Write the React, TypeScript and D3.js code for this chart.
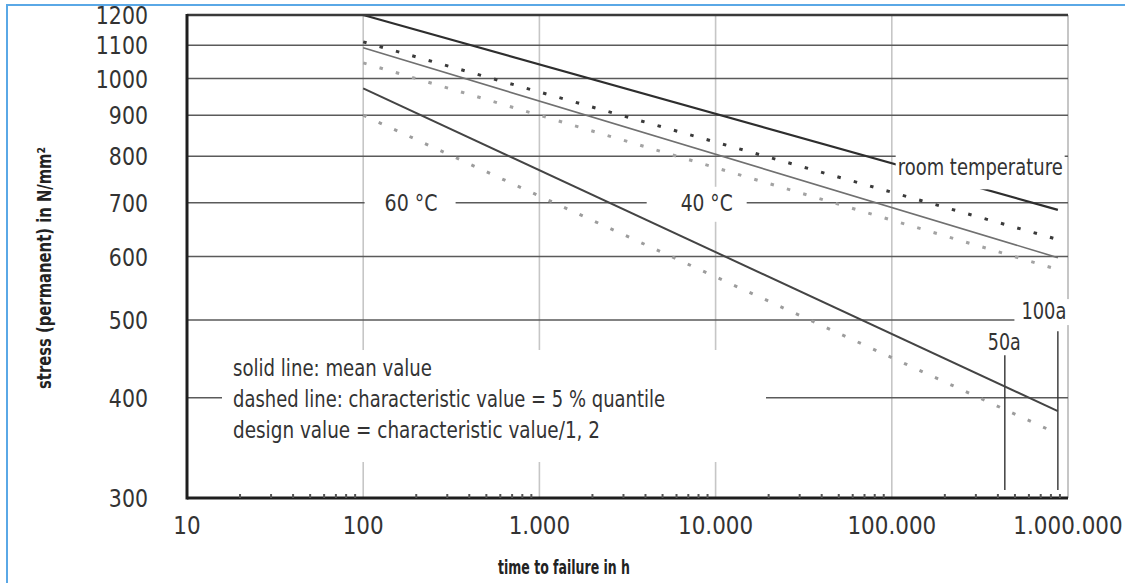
import React, { useRef, useEffect } from 'react';
import * as d3 from 'd3';

// stress vs. time to failure
const hoursStart = 100;
const hoursEnd = 876000;
const roomMean = [1200, 686];
const roomChar = [1111, 630];
const mean40 = [1092, 598];
const char40 = [1046, 578];
const mean60 = [972, 385];
const char60 = [900, 364];

const yTicks = [300, 400, 500, 600, 700, 800, 900, 1000, 1100, 1200];
const gridValues = [400, 500, 600, 700, 800, 900, 1000, 1100];
const xTicks = [10, 100, 1000, 10000, 100000, 1000000];
const xTickLabels = ['10', '100', '1.000', '10.000', '100.000', '1.000.000'];
const xGrid = [100, 1000, 10000, 100000];

const legendLines = [
	'solid line: mean value',
	'dashed line: characteristic value = 5 % quantile',
	'design value = characteristic value/1, 2',
];
const legendWidths = [199, 432, 367];

const W = 1125;
const H = 583;
const FONT = "'DejaVu Sans', sans-serif";

const series = [
	{ values: roomMean, color: '#2e2e2e', width: 2.2, dash: null, endH: hoursEnd },
	{ values: roomChar, color: '#3a3a3a', width: 3, dash: '3.5 13.5', endH: hoursEnd },
	{ values: mean40, color: '#707070', width: 1.6, dash: null, endH: hoursEnd },
	{ values: char40, color: '#a3a3a3', width: 3, dash: '3.5 13.5', endH: hoursEnd },
	{ values: mean60, color: '#444', width: 2, dash: null, endH: hoursEnd },
	{ values: char60, color: '#9c9c9c', width: 3, dash: '3.5 13.5', endH: 800000 },
];

const renderChart = (ref) => {
	const svg = d3.select(ref.current);
	svg.selectAll('*').remove();

	const left = 187;
	const right = 1068;
	const top = 15;
	const bottom = 498;

	const x = d3.scaleLog().domain([10, 1000000]).range([left, right]);
	const y = d3.scaleLog().domain([300, 1200]).range([bottom, top]);

	svg.append('rect').attr('width', W).attr('height', H).attr('fill', '#fff');

	// blue frame
	svg.append('path').attr('d', `M7,${ H } L7,5 L${ W },5`)
		.attr('fill', 'none').attr('stroke', '#5aa8e6').attr('stroke-width', 2);

	const g = svg.append('g');

	// vertical grid
	g.selectAll('.vgrid').data(xGrid).join('line')
		.attr('x1', (d) => x(d)).attr('x2', (d) => x(d))
		.attr('y1', top).attr('y2', bottom)
		.attr('stroke', '#c6c6c6').attr('stroke-width', 1.6);

	// right border
	g.append('line').attr('x1', right).attr('x2', right).attr('y1', top).attr('y2', bottom)
		.attr('stroke', '#c6c6c6').attr('stroke-width', 2);

	// horizontal grid
	g.selectAll('.hgrid').data(gridValues).join('line')
		.attr('x1', left).attr('x2', right)
		.attr('y1', (d) => y(d)).attr('y2', (d) => y(d))
		.attr('stroke', '#5a5a5a').attr('stroke-width', 1.6);

	// labels, white boxes cut the grid (and the line, when drawn over it)
	const labels = [
		{ text: '60 °C', h: 187, v: 700, w: 53, padL: 20, padR: 18, up: 14, down: 13 },
		{ text: '40 °C', h: 8900, v: 700, w: 52, padL: 34, padR: 14, up: 16, down: 19 },
		{ text: 'room temperature', h: 108000, v: 775, w: 165, padL: 2, padR: 2, up: 20, down: 22, start: true, over: true },
		{ text: '100a', h: 730000, v: 513, w: 45, padL: 7, padR: 5, up: 12, down: 14 },
	];
	const drawLabel = (l) => {
		const cx = x(l.h);
		const cy = y(l.v);
		const x0 = l.start ? cx : cx - l.w / 2;
		g.append('rect')
			.attr('x', x0 - l.padL).attr('width', l.w + l.padL + l.padR)
			.attr('y', cy - l.up).attr('height', l.up + l.down)
			.attr('fill', '#fff');
		g.append('text')
			.attr('x', x0).attr('y', cy).attr('dy', '0.35em')
			.attr('textLength', l.w).attr('lengthAdjust', 'spacingAndGlyphs')
			.attr('font-family', FONT).attr('font-size', 23).attr('fill', '#333')
			.text(l.text);
	};
	labels.filter((l) => !l.over).forEach(drawLabel);

	// legend block
	g.append('rect').attr('x', 222).attr('y', 350).attr('width', 544).attr('height', 112).attr('fill', '#fff');
	g.selectAll('.legend').data(legendLines).join('text')
		.attr('x', 233).attr('y', (d, i) => 376 + i * 31)
		.attr('textLength', (d, i) => legendWidths[i]).attr('lengthAdjust', 'spacingAndGlyphs')
		.attr('font-family', FONT).attr('font-size', 23).attr('fill', '#333')
		.text((d) => d);

	// 50a / 100a markers
	const markers = [
		{ label: '50a', hours: 50 * 8760, topV: 452, labelV: 469 },
		{ label: '100a', hours: 100 * 8760, topV: 484 },
	];
	g.selectAll('.marker').data(markers).join('line')
		.attr('x1', (d) => x(d.hours)).attr('x2', (d) => x(d.hours))
		.attr('y1', (d) => y(d.topV)).attr('y2', y(307))
		.attr('stroke', '#333').attr('stroke-width', 1.4);
	g.append('text')
		.attr('x', x(markers[0].hours) - 17).attr('y', y(markers[0].labelV))
		.attr('dy', '0.35em')
		.attr('textLength', 33).attr('lengthAdjust', 'spacingAndGlyphs')
		.attr('font-family', FONT).attr('font-size', 23).attr('fill', '#333')
		.text(markers[0].label);

	// series
	const line = d3.line().x((d) => x(d[0])).y((d) => y(d[1]));
	series.forEach((s) => {
		g.append('path')
			.datum([[hoursStart, s.values[0]], [s.endH, s.values[1]]])
			.attr('d', line)
			.attr('fill', 'none')
			.attr('stroke', s.color)
			.attr('stroke-width', s.width)
			.attr('stroke-dasharray', s.dash);
	});

	labels.filter((l) => l.over).forEach(drawLabel);

	// axes
	g.append('line').attr('x1', left).attr('x2', right).attr('y1', top).attr('y2', top)
		.attr('stroke', '#3a3a3a').attr('stroke-width', 2.4);
	g.append('line').attr('x1', left).attr('x2', left).attr('y1', top - 1).attr('y2', bottom + 1.5)
		.attr('stroke', '#1e1e1e').attr('stroke-width', 3);
	g.append('line').attr('x1', left).attr('x2', right).attr('y1', bottom).attr('y2', bottom)
		.attr('stroke', '#1e1e1e').attr('stroke-width', 3);

	// minor ticks on time axis
	const minor = x.ticks().filter((d) => !xTicks.includes(d));
	g.selectAll('.minor').data(minor).join('line')
		.attr('x1', (d) => x(d)).attr('x2', (d) => x(d))
		.attr('y1', bottom - 4).attr('y2', bottom)
		.attr('stroke', '#555').attr('stroke-width', 2);

	// tick labels
	g.selectAll('.ylab').data(yTicks).join('text')
		.attr('transform', (d) => `translate(${ left - 39 },${ y(d) }) scale(0.82,1)`)
		.attr('dy', '0.36em').attr('text-anchor', 'end')
		.attr('font-family', FONT).attr('font-size', 25).attr('fill', '#333')
		.text((d) => d);
	g.selectAll('.xlab').data(xTicks).join('text')
		.attr('transform', (d) => `translate(${ x(d) },525) scale(0.86,1)`)
		.attr('dy', '0.36em').attr('text-anchor', 'middle')
		.attr('font-family', FONT).attr('font-size', 25).attr('fill', '#333')
		.text((d, i) => xTickLabels[i]);

	// axis titles
	g.append('text')
		.attr('x', 498).attr('y', 567).attr('dy', '0.35em')
		.attr('textLength', 132).attr('lengthAdjust', 'spacingAndGlyphs')
		.attr('font-family', FONT).attr('font-size', 19).attr('font-weight', 'bold').attr('fill', '#222')
		.text('time to failure in h');
	g.append('text')
		.attr('transform', 'translate(44,389) rotate(-90)')
		.attr('dy', '0.35em')
		.attr('textLength', 242).attr('lengthAdjust', 'spacingAndGlyphs')
		.attr('font-family', FONT).attr('font-size', 19).attr('font-weight', 'bold').attr('fill', '#222')
		.text('stress (permanent) in N/mm²');
};

const App = () => {
	const ref = useRef(null);

	useEffect(() => {
		renderChart(ref);
	}, []);

	return (
		<svg ref={ ref } width={ W } height={ H }
			style={ { position: 'absolute', left: 0, top: 0, display: 'block' } } />
	);
};

export default App;
